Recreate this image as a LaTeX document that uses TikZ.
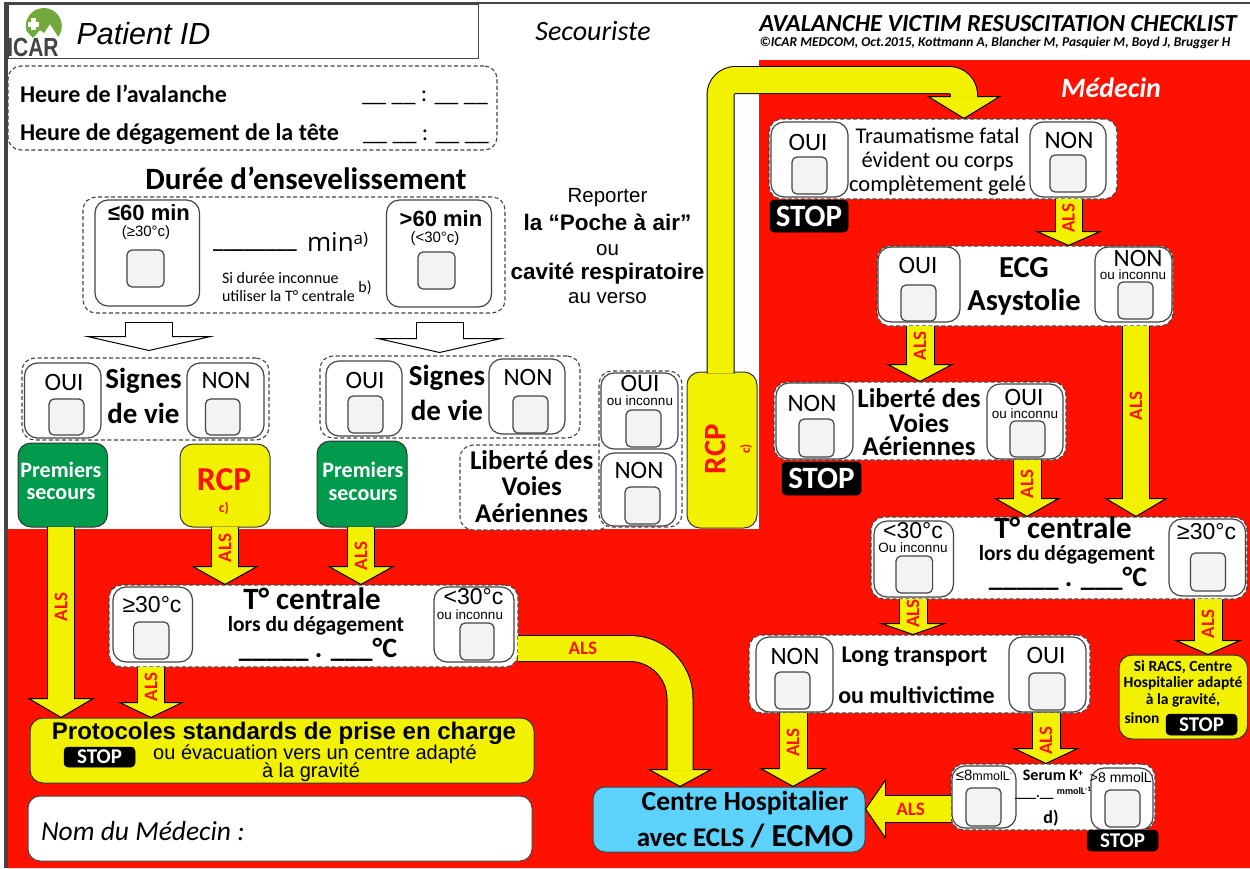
\documentclass[tikz,border=0pt]{standalone}
\usepackage{fontspec}
\setmainfont{Carlito}
\newfontfamily\fL{Liberation Sans}
\newfontfamily\fO{Open Sans}
\usetikzlibrary{arrows.meta,calc}
\definecolor{bgred}{HTML}{FF1100}
\definecolor{ayel}{HTML}{F2F200}
\definecolor{agreen}{HTML}{009A4D}
\definecolor{ablue}{HTML}{5DD2FC}
\definecolor{edgeg}{HTML}{444444}
\definecolor{chkg}{HTML}{F3F3F3}
\definecolor{logog}{HTML}{72A83C}
\newcommand\sz[1]{\fontsize{#1}{#1}\selectfont}
\newcounter{auton}
\newcommand\tx[4][]{\stepcounter{auton}\node[inner sep=0,outer sep=0,#1] (tx\theauton) at (#2,#3) {#4};}
\newcommand\bx[7][]{\node[#1,minimum width={(#5-#3)*1pt},minimum height={(#6-#4)*1pt},inner sep=0,outer sep=0] (#2) at ({(#3+#5)/2},{(#4+#6)/2}) {#7};}
\newcommand\chk[4]{\stepcounter{auton}\node[chkbox,minimum width={(#3-#1)*1pt},minimum height={(#4-#2)*1pt},inner sep=0,outer sep=0] (ck\theauton) at ({(#1+#3)/2},{(#2+#4)/2}) {};}
\tikzset{
  x=1pt,y=-1pt,
  dashbox/.style={draw=edgeg,fill=white,dashed,line width=1.1pt,rounded corners=13pt,dash pattern=on 4pt off 2.5pt},
  subbox/.style={draw=edgeg,fill=white,line width=1.2pt,rounded corners=13pt},
  chkbox/.style={draw=edgeg,fill=chkg,line width=1.2pt,rounded corners=5pt},
  stopbox/.style={draw=black,fill=black,text=white,rounded corners=4pt,line width=.5pt},
  greenbox/.style={draw=black!80,fill=agreen,text=white,rounded corners=13pt,line width=1pt},
  yelbox/.style={draw=black!80,fill=ayel,rounded corners=13pt,line width=1pt},
  blockarr/.style n args={3}{draw=black,line width={(#1+2)*1pt},-{Triangle[length=#3pt,width=#2pt,fill=ayel,line width=1pt]},
     postaction={draw=ayel,line width=#1pt,-,shorten >={(#3-1.5)*1pt}}},
  hollowarr/.style n args={3}{draw=black,line width={(#1+2)*1pt},-{Triangle[length=#3pt,width=#2pt,fill=white,line width=1pt]},
     postaction={draw=white,line width=#1pt,-,shorten >={(#3-1.5)*1pt},shorten <=1pt}},
  alsv/.style={font=\bfseries\sz{19},text=bgred,rotate=90,inner sep=0},
  alsh/.style={font=\bfseries\sz{19},text=bgred,inner sep=0},
  oui/.style={font=\sz{25}},
  sansv/.style={font=\fL\sz{23}},
  inco/.style={font=\fL\sz{13.5}},
  sign/.style={font=\bfseries\sz{29}},
  libt/.style={font=\bfseries\sz{27}},
  prem/.style={font=\bfseries\sz{22},text=white},
  tcen/.style={font=\bfseries\sz{31}},
  lors/.style={font=\bfseries\sz{21.5}},
  tval/.style={font=\bfseries\sz{28}},
  racs/.style={font=\bfseries\sz{15.5}},
}
\begin{document}
\begin{tikzpicture}
\useasboundingbox (0,0) rectangle (1250,868);
% background
\fill[white] (0,0) rectangle (1250,868);
\fill[bgred] (8,529) -- (759,529) -- (759,60) -- (1250,60) -- (1250,868) -- (8,868) -- cycle;
\fill[edgeg] (4,2) rectangle (1250,4);
\fill[edgeg] (4,2) rectangle (8,868);
% header
\bx[draw=edgeg,line width=1pt]{patient}{8}{4}{478}{58}{}
\fill[logog] (26.5,31) arc[start angle=164,end angle=397,radius=18] -- (50,24) -- (44,33) -- (40,30) -- (33,38) -- cycle;
\fill[white] (31,18) rectangle (36,30);
\fill[white] (28,21.5) rectangle (39,26.5);
\tx[yscale=1.25]{33}{47.5}{\fL\bfseries\sz{21}\textcolor{edgeg}{ICAR}}
\tx{143.5}{34}{\fL\itshape\sz{30.5}Patient ID}
\tx{593}{31}{\itshape\sz{28}Secouriste}
\tx{998}{24}{\bfseries\itshape\sz{24.5}AVALANCHE VICTIM RESUSCITATION CHECKLIST}
\tx{995}{42.5}{\itshape\bfseries\sz{13.5}©ICAR MEDCOM, Oct.2015, Kottmann A, Blancher M, Pasquier M, Boyd J, Brugger H}
\tx{1111}{88}{\bfseries\itshape\sz{28}\textcolor{white}{Médecin}}
% heures
\bx[dashbox]{heure}{8}{66}{497}{150}{}
\tx[anchor=west]{20}{94}{\bfseries\sz{24}Heure de l’avalanche}
\tx[anchor=west]{20}{134}{\bfseries\sz{24}Heure de dégagement de la tête}
\tx{425}{98}{\sz{24}\_\_ \_\_ : \_\_ \_\_}
\tx{426}{137}{\sz{24}\_\_ \_\_ : \_\_ \_\_}
% duree
\tx{306}{178}{\bfseries\sz{31}Durée d’ensevelissement}
\bx[dashbox]{durbox}{83}{197}{505}{313}{}
\bx[subbox]{d60a}{95}{200}{199.5}{306}{}
\bx[subbox]{d60b}{386.5}{200}{491.5}{307}{}
\chk{127}{250}{164}{287}
\chk{418}{252}{455}{289}
\tx{149}{213}{\fL\bfseries\sz{22}≤60 min}
\tx{146}{233}{\fL\sz{15}(≥30°c)}
\tx{441}{219}{\fL\bfseries\sz{22}>60 min}
\tx{435}{239}{\fL\sz{15}(<30°c)}
\tx{255}{250}{\bfseries\sz{21}\_\_\_\_\_\_\_\_}
\tx[anchor=west]{307}{242}{\fO\sz{26}min\raisebox{7pt}{\sz{17}a)}}
\tx[anchor=west]{222}{278}{\sz{16}Si durée inconnue}
\tx[anchor=west]{222}{296}{\sz{16}utiliser la T° centrale}
\tx{365}{288}{\sz{16}b)}
% reporter
\tx{607.5}{198}{\fL\sz{20.5}Reporter}
\tx{607.5}{222}{\fL\bfseries\sz{22.5}la “Poche à air”}
\tx{607.5}{250}{\fL\sz{20.5}ou}
\tx{607.5}{274}{\fL\bfseries\sz{22.5}cavité respiratoire}
\tx{607.5}{298}{\fL\sz{20.5}au verso}
% signes de vie
\bx[dashbox]{sv1}{22}{358}{269}{440}{}
\bx[subbox]{sv1o}{24.5}{363}{101}{438}{}
\bx[subbox]{sv1n}{187}{363}{264}{438}{}
\chk{49}{399}{84}{435}
\chk{205.5}{399}{240}{435}
\tx[oui]{64}{382}{OUI}
\tx[oui]{226}{380}{NON}
\tx[sign]{143.5}{381}{Signes}
\tx[sign]{143.5}{413}{de vie}
\bx[dashbox]{sv2}{320}{356}{580}{438}{}
\bx[subbox]{sv2o}{326}{361}{402}{436}{}
\bx[subbox]{sv2n}{489}{359}{565}{434}{}
\chk{348}{396}{383}{433}
\chk{513}{396}{548}{433}
\tx[oui]{365}{380}{OUI}
\tx[oui]{528}{377}{NON}
\tx[sign]{447}{378}{Signes}
\tx[sign]{447}{410}{de vie}
% liberte gauche
\bx[dashbox]{lib1}{460}{445}{610}{530}{}
\bx[dashbox]{lib1w}{599}{371}{682}{527}{}
\bx[subbox]{lib1o}{601}{373}{678}{449}{}
\bx[subbox]{lib1n}{601}{453}{676}{526}{}
\chk{626}{410}{661}{447}
\chk{625}{487}{660}{524}
\tx[oui]{640}{383}{OUI}
\tx[inco]{640}{401}{ou inconnu}
\tx[oui]{639}{470}{NON}
\tx[libt]{531.7}{460}{Liberté des}
\tx[libt]{531.7}{486}{Voies}
\tx[libt]{531.7}{513}{Aériennes}
% action boxes
\bx[greenbox]{ps1}{18}{443}{107.5}{527}{}
\tx[prem]{61}{470}{Premiers}
\tx[prem]{61}{494}{secours}
\bx[yelbox]{rcp1}{180}{444}{270}{527}{}
\tx{224}{480}{\bfseries\sz{33.5}\textcolor{bgred}{RCP}}
\tx{224}{508}{\bfseries\sz{14}\textcolor{bgred}{c)}}
\bx[greenbox]{ps2}{317}{441}{407}{527}{}
\tx[prem]{363}{470}{Premiers}
\tx[prem]{363}{495}{secours}
\bx[yelbox]{rcp2}{687}{372}{757}{528}{}
\tx[rotate=90]{715}{449}{\bfseries\sz{31}\textcolor{bgred}{RCP}}
\tx[rotate=90]{746}{449}{\bfseries\sz{13}\textcolor{bgred}{c)}}
% t centrale 1
\bx[dashbox]{t1}{109}{585}{518}{667}{}
\bx[subbox]{t1a}{113}{587}{192.5}{662}{}
\bx[subbox]{t1b}{434}{587}{514}{662}{}
\chk{133.6}{622}{169}{659}
\chk{460}{623}{494}{660}
\tx[sansv]{152}{605}{≥30°c}
\tx[sansv]{473.5}{597}{<30°c}
\tx[inco]{470}{615}{ou inconnu}
\tx[tcen]{312}{599}{T° centrale}
\tx[lors]{316}{626}{lors du dégagement}
\tx[tval]{318}{650}{\_\_\_\_\_ . \_\_\_°C}
% protocoles
\bx[yelbox]{proto}{30}{718}{534}{783}{}
\tx{284}{733}{\fL\bfseries\sz{24}Protocoles standards de prise en charge}
\bx[stopbox]{pstop}{64}{747}{135}{767}{\bfseries\sz{21}STOP}
\tx{315}{754}{\fL\sz{20}ou évacuation vers un centre adapté}
\tx{311}{772}{\fL\sz{20}à la gravité}
\bx[draw=edgeg,fill=white,rounded corners=12pt,line width=1pt]{nom}{28}{796}{532}{861}{}
\tx[anchor=west]{41}{831}{\itshape\sz{27.5}Nom du Médecin :}
% centre hospitalier
\bx[draw=edgeg,fill=ablue,rounded corners=12pt,line width=1pt]{centre}{593}{787}{865}{852}{}
\tx{745}{803}{\bfseries\sz{27.5}Centre Hospitalier}
\tx{745}{836}{\bfseries\sz{27}avec ECLS \sz{32}/ ECMO}
% traumatisme
\bx[dashbox]{tra}{769}{119}{1117}{199}{}
\bx[subbox]{trao}{771}{122}{848}{197}{}
\bx[subbox]{tran}{1030}{122}{1106}{197}{}
\chk{792}{157}{827}{194}
\chk{1050}{155}{1086}{192}
\tx[oui]{808}{142}{OUI}
\tx[oui]{1069}{140}{NON}
\tx{937.6}{136}{\sz{22.5}Traumatisme fatal}
\tx{937.6}{161}{\sz{22.5}évident ou corps}
\tx{937.6}{186}{\sz{22.5}complètement gelé}
\bx[stopbox]{trastop}{770}{200}{848}{232}{\bfseries\sz{31}STOP}
% ecg
\bx[dashbox]{ecg}{877}{246}{1173}{326}{}
\bx[subbox]{ecgo}{878}{247}{960}{322}{}
\bx[subbox]{ecgn}{1095}{247}{1172}{322}{}
\chk{901}{285}{936}{321}
\chk{1118}{282}{1153}{319}
\tx[oui]{918}{265}{OUI}
\tx[oui]{1138}{258}{NON}
\tx[inco]{1133}{275}{ou inconnu}
\tx[font=\bfseries\sz{30.5}]{1024}{268}{ECG}
\tx[font=\bfseries\sz{30.5}]{1024}{302}{Asystolie}
% liberte droite
\bx[dashbox]{lib2}{774}{382}{1066}{460}{}
\bx[subbox]{lib2n}{776}{383}{853}{459}{}
\bx[subbox]{lib2o}{987}{384}{1063}{459}{}
\chk{799}{419}{834}{457}
\chk{1010}{421}{1045}{457}
\tx[oui]{812}{403}{NON}
\tx[oui]{1024}{397}{OUI}
\tx[inco]{1025}{414}{ou inconnu}
\tx[libt]{919}{398}{Liberté des}
\tx[libt]{919}{423}{Voies}
\tx[libt]{919}{446}{Aériennes}
\bx[stopbox]{lib2stop}{782}{462}{861}{495}{\bfseries\sz{31}STOP}
% t centrale 2
\bx[dashbox]{t2}{871}{517}{1247}{599}{}
\bx[subbox]{t2a}{874}{521}{953.5}{597}{}
\bx[subbox]{t2b}{1169}{519}{1245.5}{596}{}
\chk{896}{556}{932.6}{593}
\chk{1190.5}{553}{1225.5}{591}
\tx[sansv]{913}{531}{<30°c}
\tx[inco]{913}{548}{Ou inconnu}
\tx[sansv]{1206.6}{532}{≥30°c}
\tx[tcen]{1063}{528}{T° centrale}
\tx[lors]{1067}{555}{lors du dégagement}
\tx[tval]{1068}{579}{\_\_\_\_\_ . \_\_\_°C}
% long transport
\bx[dashbox]{lng}{749}{635}{1090}{713}{}
\bx[subbox]{lngn}{756}{637}{833}{712}{}
\bx[subbox]{lngo}{1009}{637}{1086}{712}{}
\chk{775}{672}{810}{709}
\chk{1029}{673}{1065}{710}
\tx[oui]{795}{656}{NON}
\tx[oui]{1046}{655}{OUI}
\tx{914.5}{657}{\bfseries\sz{24}Long transport}
\tx{916.5}{695}{\bfseries\sz{24}ou multivictime}
% si racs
\bx[yelbox]{racsb}{1119}{655}{1247.5}{739}{}
\tx[racs]{1183}{667}{Si RACS, Centre}
\tx[racs]{1183}{683}{Hospitalier adapté}
\tx[racs]{1183}{700}{à la gravité,}
\tx[racs]{1142}{718}{sinon}
\bx[stopbox]{racsstop}{1166}{714}{1237}{735}{\bfseries\sz{21}STOP}
% serum
\bx[dashbox]{ser}{951}{764}{1155}{830}{}
\bx[subbox]{sera}{952}{766}{1016}{828}{}
\bx[subbox]{serb}{1091}{768}{1153}{830}{}
\chk{966}{788}{1001}{826}
\chk{1105}{790}{1140}{827}
\tx{984}{775}{\fL\sz{15}≤8\sz{12.5}mmolL\raisebox{5pt}{\sz{7}-}}
\tx{1122}{777}{\fL\sz{14}>8 mmolL\raisebox{5pt}{\sz{7}-}}
\tx{1053}{775}{\bfseries\sz{16}Serum K\raisebox{4pt}{\sz{10}+}}
\tx{1053}{793}{\bfseries\sz{14}\_\_\_.\_\_ \raisebox{3pt}{\sz{10}mmolL\raisebox{3pt}{\sz{7}-1}}}
\tx{1051}{818}{\bfseries\sz{18}d)}
\bx[stopbox]{serstop}{1087}{830}{1158}{851}{\bfseries\sz{21}STOP}
% connectors
\draw[hollowarr={46}{132}{15}] (149,322 |- durbox.south) ++(0,9) coordinate (ha) -- (149,351);
\draw[hollowarr={46}{132}{15}] (439.5,322 |- durbox.south) ++(0,9) coordinate (hb) -- (439.5,353);
\draw[blockarr={26}{68}{20}] (61,0 |- ps1.south) -- node[alsv,pos=.42] (als1) {ALS} (61,0 |- proto.north);
\draw[blockarr={26}{68}{19}] (225,0 |- rcp1.south) -- node[alsv,pos=.36] (als2) {ALS} (225,0 |- t1.north);
\draw[blockarr={26}{68}{19}] (361,0 |- ps2.south) -- node[alsv,pos=.5] (als3) {ALS} (361,0 |- t1.north);
\draw[blockarr={26}{67}{16}] (151,0 |- t1.south) -- node[alsv,pos=.39] (als4) {ALS} (151,0 |- proto.north);
\draw[blockarr={25}{66}{18},rounded corners=50pt] (t1.east |- 0,648.5) -| node[alsh,pos=.2] (als5) {ALS} (680,0 |- centre.north);
\draw[blockarr={26}{75}{23},rounded corners=15pt] ([xshift=-1.5pt,yshift=-1.5pt]rcp2.north) |- (964,80) -- (964,0 |- tra.north);
\draw[blockarr={26}{68}{15}] (1068.5,0 |- tra.south) -- node[alsv,pos=.41] (als6) {ALS} (1068.5,0 |- ecg.north);
\draw[blockarr={27}{68}{18}] (920,0 |- ecg.south) -- node[alsv,pos=.36] (als7) {ALS} (920,0 |- lib2.north);
\draw[blockarr={26}{64}{19}] (1136,0 |- ecg.south) -- node[alsv,pos=.42] (als8) {ALS} (1136,0 |- t2.north);
\draw[blockarr={27}{67}{19}] (1027,0 |- lib2.south) -- node[alsv,pos=.42] (als9) {ALS} (1027,0 |- t2.north);
\draw[blockarr={27}{69}{12}] (913,0 |- t2.south) -- node[alsv,pos=.4] (als10) {ALS} (913,0 |- lng.north);
\draw[blockarr={27}{69}{15}] (1208,0 |- t2.south) -- node[alsv,pos=.45] (als11) {ALS} (1208,0 |- racsb.north);
\draw[blockarr={27}{68}{19}] (793,0 |- lng.south) -- node[alsv,pos=.4] (als12) {ALS} (793,0 |- centre.north);
\draw[blockarr={27}{68}{16}] (1046,0 |- lng.south) -- node[alsv,pos=.54] (als13) {ALS} (1046,0 |- ser.north);
\draw[blockarr={26}{61}{21}] (ser.west |- 0,809) -- node[alsh,pos=.47] (als14) {ALS} (centre.east |- 0,809);
\end{tikzpicture}
\end{document}
